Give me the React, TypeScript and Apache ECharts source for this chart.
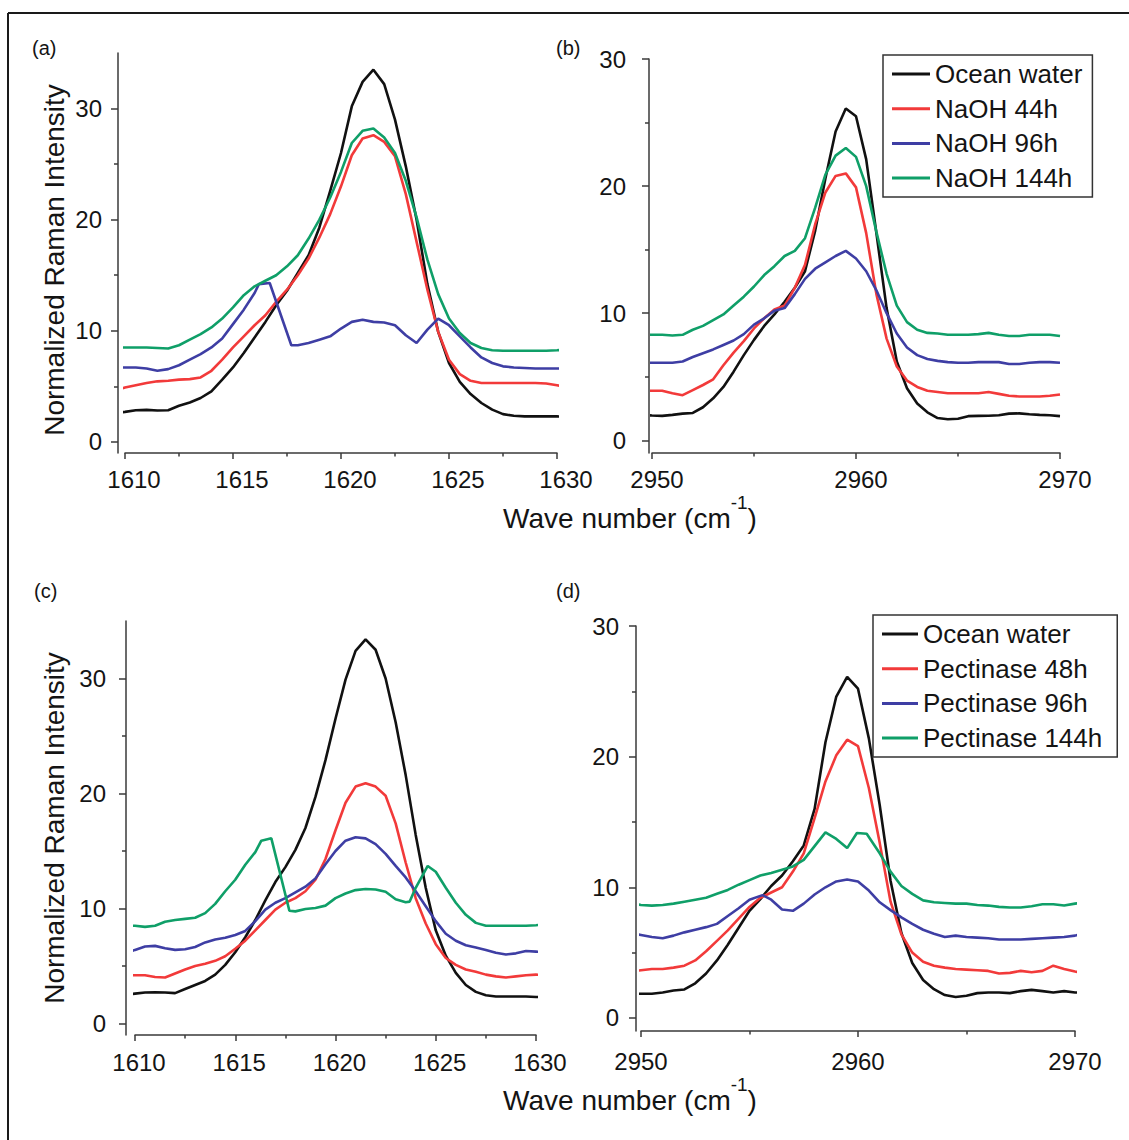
import React, { useEffect, useRef } from "react";
import * as echarts from "echarts";

// ---------- Panel (a): 1610 region, NaOH ----------
const X_A = [1609.7, 1610, 1610.5, 1611, 1611.5, 1612, 1612.5, 1613, 1613.5, 1614, 1614.5, 1615, 1615.5, 1616, 1616.5, 1617, 1617.5, 1618, 1618.5, 1619, 1619.5, 1620, 1620.5, 1621, 1621.5, 1622, 1622.5, 1623, 1623.5, 1624, 1624.5, 1625, 1625.5, 1626, 1626.5, 1627, 1627.5, 1628, 1628.5, 1629, 1629.5, 1630, 1630.4];
const A_OCEAN = [2.64, 2.7, 2.85, 2.88, 2.82, 2.85, 3.25, 3.55, 3.95, 4.55, 5.6, 6.7, 8.0, 9.4, 10.8, 12.3, 13.6, 15.2, 16.8, 19.3, 22.6, 26.0, 30.2, 32.4, 33.5, 32.2, 29.0, 24.8, 20.0, 14.2, 9.9, 7.1, 5.4, 4.3, 3.5, 2.9, 2.5, 2.35, 2.3, 2.3, 2.3, 2.3, 2.25];
const A_NAOH44 = [4.7, 4.9, 5.1, 5.3, 5.45, 5.5, 5.6, 5.65, 5.8, 6.4, 7.4, 8.5, 9.5, 10.5, 11.4, 12.6, 13.7, 15.0, 16.5, 18.4, 20.5, 23.0, 25.8, 27.3, 27.6, 27.0, 25.7, 22.3, 18.0, 13.7, 9.9, 7.4, 6.1, 5.5, 5.3, 5.3, 5.3, 5.3, 5.3, 5.3, 5.25, 5.1, 4.95];
const A_NAOH144 = [8.5, 8.5, 8.5, 8.5, 8.45, 8.4, 8.7, 9.2, 9.7, 10.3, 11.1, 12.1, 13.2, 14.0, 14.5, 15.0, 15.8, 16.8, 18.3, 20.0, 22.0, 24.3, 26.9, 28.0, 28.2, 27.4, 26.0, 23.5, 20.2, 16.4, 13.3, 11.1, 9.8, 8.9, 8.45, 8.25, 8.2, 8.2, 8.2, 8.2, 8.2, 8.25, 8.3];
const X_A_96 = [1609.7, 1610, 1610.5, 1611, 1611.5, 1612, 1612.5, 1613, 1613.5, 1614, 1614.5, 1615, 1615.5, 1616, 1616.2, 1616.7, 1617.7, 1618, 1618.5, 1619, 1619.5, 1620, 1620.5, 1621, 1621.5, 1622, 1622.5, 1623, 1623.5, 1624, 1624.5, 1625, 1625.5, 1626, 1626.5, 1627, 1627.5, 1628, 1628.5, 1629, 1629.5, 1630, 1630.4];
const A_NAOH96 = [6.7, 6.7, 6.7, 6.6, 6.4, 6.55, 6.9, 7.4, 7.9, 8.5, 9.3, 10.6, 11.9, 13.4, 14.2, 14.3, 8.7, 8.7, 8.9, 9.2, 9.5, 10.2, 10.8, 11.0, 10.8, 10.75, 10.5, 9.6, 8.9, 10.1, 11.1, 10.5, 9.5, 8.5, 7.6, 7.1, 6.8, 6.7, 6.65, 6.6, 6.6, 6.6, 6.6];

// ---------- Panel (b): 2960 region, NaOH ----------
const X_B = [2949.8, 2950, 2950.5, 2951, 2951.5, 2952, 2952.5, 2953, 2953.5, 2954, 2954.5, 2955, 2955.5, 2956, 2956.5, 2957, 2957.5, 2958, 2958.5, 2959, 2959.5, 2960, 2960.5, 2961, 2961.5, 2962, 2962.5, 2963, 2963.5, 2964, 2964.5, 2965, 2965.5, 2966, 2966.5, 2967, 2967.5, 2968, 2968.5, 2969, 2969.5, 2970];
const B_OCEAN = [1.97, 1.95, 1.92, 2.0, 2.1, 2.15, 2.6, 3.3, 4.2, 5.4, 6.7, 7.9, 9.0, 9.9, 10.9, 12.0, 13.3, 16.5, 20.6, 24.3, 26.1, 25.5, 22.1, 16.3, 10.4, 6.2, 4.1, 2.9, 2.2, 1.75, 1.65, 1.7, 1.9, 1.92, 1.93, 1.97, 2.1, 2.12, 2.05, 2.0, 1.97, 1.9];
const B_NAOH44 = [3.9, 3.9, 3.9, 3.7, 3.55, 3.95, 4.35, 4.8, 5.9, 6.9, 7.8, 8.8, 9.6, 10.3, 10.6, 12.0, 13.8, 17.0, 19.5, 20.8, 21.0, 19.9, 16.3, 11.5, 8.0, 5.8, 4.7, 4.2, 3.9, 3.8, 3.7, 3.7, 3.7, 3.7, 3.8, 3.65, 3.5, 3.45, 3.45, 3.45, 3.5, 3.6];
const B_NAOH96 = [6.1, 6.1, 6.1, 6.1, 6.2, 6.55, 6.85, 7.15, 7.5, 7.85, 8.35, 9.1, 9.6, 10.2, 10.4, 11.5, 12.7, 13.5, 14.0, 14.5, 14.9, 14.3, 13.3, 11.8, 10.0, 8.4, 7.3, 6.7, 6.4, 6.25, 6.15, 6.1, 6.1, 6.15, 6.15, 6.15, 6.0, 6.0, 6.1, 6.15, 6.15, 6.1];
const B_NAOH144 = [8.3, 8.3, 8.3, 8.25, 8.3, 8.7, 9.0, 9.45, 9.9, 10.6, 11.3, 12.1, 13.0, 13.7, 14.5, 14.9, 15.9, 18.3, 20.9, 22.4, 23.0, 22.3, 20.0, 16.4, 13.1, 10.6, 9.3, 8.7, 8.45, 8.4, 8.3, 8.3, 8.3, 8.35, 8.45, 8.3, 8.2, 8.2, 8.3, 8.3, 8.3, 8.2];

// ---------- Panel (c): 1610 region, Pectinase ----------
const X_C = [1609.55, 1610, 1610.5, 1611, 1611.5, 1612, 1612.5, 1613, 1613.5, 1614, 1614.5, 1615, 1615.5, 1616, 1616.5, 1617, 1617.5, 1618, 1618.5, 1619, 1619.5, 1620, 1620.5, 1621, 1621.5, 1622, 1622.5, 1623, 1623.5, 1624, 1624.5, 1625, 1625.5, 1626, 1626.5, 1627, 1627.5, 1628, 1628.5, 1629, 1629.5, 1630, 1630.45];
const C_OCEAN = [2.5, 2.6, 2.7, 2.72, 2.7, 2.64, 3.0, 3.35, 3.7, 4.25, 5.1, 6.2, 7.5, 9.0, 10.7, 12.3, 13.6, 15.1, 17.0, 19.7, 22.9, 26.5, 29.9, 32.4, 33.4, 32.5, 30.0, 26.2, 21.6, 16.4, 11.8, 8.1, 5.9, 4.4, 3.35, 2.75, 2.45, 2.35, 2.35, 2.35, 2.35, 2.3, 2.3];
const C_PECT48 = [4.2, 4.2, 4.2, 4.05, 4.0, 4.35, 4.7, 5.0, 5.2, 5.45, 5.85, 6.5, 7.2, 8.1, 9.0, 9.9, 10.5, 10.9, 11.5, 12.5, 14.3, 16.8, 19.2, 20.6, 20.9, 20.6, 19.8, 17.4, 14.0, 10.9, 8.7, 6.9, 5.7, 5.1, 4.7, 4.5, 4.25, 4.1, 4.0, 4.1, 4.2, 4.25, 4.2];
const C_PECT96 = [6.1, 6.4, 6.7, 6.75, 6.55, 6.4, 6.45, 6.65, 7.05, 7.3, 7.45, 7.7, 8.05, 8.9, 9.9, 10.5, 10.9, 11.4, 11.9, 12.6, 13.85, 15.0, 15.9, 16.2, 16.1, 15.6, 14.75, 13.7, 12.7, 11.5, 10.2, 8.9, 7.8, 7.2, 6.8, 6.6, 6.4, 6.15, 6.0, 6.1, 6.3, 6.25, 6.2];
const X_C_144 = [1609.55, 1610, 1610.5, 1611, 1611.5, 1612, 1612.5, 1613, 1613.5, 1614, 1614.5, 1615, 1615.5, 1616, 1616.3, 1616.8, 1617.7, 1618, 1618.5, 1619, 1619.5, 1620, 1620.5, 1621, 1621.5, 1622, 1622.5, 1623, 1623.5, 1623.7, 1624, 1624.6, 1625, 1625.5, 1626, 1626.5, 1627, 1627.5, 1628, 1628.5, 1629, 1629.5, 1630, 1630.45];
const C_PECT144 = [8.5, 8.5, 8.4, 8.5, 8.85, 9.0, 9.1, 9.2, 9.6, 10.4, 11.5, 12.5, 13.8, 14.9, 15.9, 16.1, 9.8, 9.75, 9.95, 10.05, 10.25, 10.9, 11.3, 11.6, 11.7, 11.65, 11.45, 10.8, 10.55, 10.6, 11.8, 13.7, 13.2, 11.8, 10.5, 9.45, 8.75, 8.5, 8.5, 8.5, 8.5, 8.5, 8.55, 8.6];

// ---------- Panel (d): 2960 region, Pectinase ----------
const X_D = [2949.8, 2950, 2950.5, 2951, 2951.5, 2952, 2952.5, 2953, 2953.5, 2954, 2954.5, 2955, 2955.5, 2956, 2956.5, 2957, 2957.5, 2958, 2958.5, 2959, 2959.5, 2960, 2960.5, 2961, 2961.5, 2962, 2962.5, 2963, 2963.5, 2964, 2964.5, 2965, 2965.5, 2966, 2966.5, 2967, 2967.5, 2968, 2968.5, 2969, 2969.5, 2970, 2970.2];
const D_OCEAN = [1.85, 1.85, 1.85, 1.95, 2.1, 2.18, 2.65, 3.4, 4.4, 5.6, 6.9, 8.2, 9.1, 10.1, 10.9, 12.0, 13.2, 16.0, 21.1, 24.6, 26.1, 25.2, 21.4, 16.3, 10.5, 6.5, 4.2, 2.9, 2.2, 1.75, 1.6, 1.7, 1.9, 1.95, 1.95, 1.9, 2.05, 2.15, 2.05, 1.95, 2.05, 1.95, 1.95];
const D_PECT48 = [3.6, 3.65, 3.75, 3.75, 3.85, 4.0, 4.4, 5.1, 5.9, 6.7, 7.6, 8.5, 9.2, 9.6, 10.0, 11.2, 12.6, 15.3, 18.1, 20.1, 21.3, 20.8, 17.6, 13.4, 8.9, 6.4, 5.0, 4.3, 4.0, 3.85, 3.75, 3.7, 3.65, 3.6, 3.4, 3.45, 3.6, 3.5, 3.6, 4.0, 3.75, 3.55, 3.5];
const X_D_96 = [2949.8, 2950, 2950.5, 2951, 2951.5, 2952, 2952.5, 2953, 2953.5, 2954, 2954.5, 2955, 2955.6, 2956, 2956.5, 2957, 2957.5, 2958, 2958.5, 2959, 2959.5, 2960, 2960.5, 2961, 2961.5, 2962, 2962.5, 2963, 2963.5, 2964, 2964.5, 2965, 2965.5, 2966, 2966.5, 2967, 2967.5, 2968, 2968.5, 2969, 2969.5, 2970, 2970.2];
const D_PECT96 = [6.4, 6.35, 6.2, 6.1, 6.3, 6.55, 6.75, 6.95, 7.2, 7.8, 8.4, 9.05, 9.4, 9.05, 8.3, 8.2, 8.75, 9.45, 10.0, 10.45, 10.6, 10.45, 9.75, 8.85, 8.25, 7.7, 7.2, 6.75, 6.45, 6.2, 6.3, 6.2, 6.15, 6.1, 6.0, 6.0, 6.0, 6.05, 6.1, 6.15, 6.2, 6.3, 6.4];
const X_D_144 = [2949.8, 2950, 2950.5, 2951, 2951.5, 2952, 2952.5, 2953, 2953.5, 2954, 2954.5, 2955, 2955.5, 2956, 2956.5, 2957, 2957.5, 2958, 2958.5, 2959, 2959.5, 2959.95, 2960.4, 2961, 2961.5, 2962, 2962.5, 2963, 2963.5, 2964, 2964.5, 2965, 2965.5, 2966, 2966.5, 2967, 2967.5, 2968, 2968.5, 2969, 2969.5, 2970, 2970.2];
const D_PECT144 = [8.7, 8.65, 8.6, 8.65, 8.75, 8.9, 9.05, 9.2, 9.5, 9.8, 10.2, 10.55, 10.9, 11.1, 11.35, 11.6, 12.1, 13.15, 14.2, 13.7, 13.0, 14.15, 14.1, 12.6, 11.2, 10.1, 9.5, 9.0, 8.85, 8.8, 8.75, 8.75, 8.65, 8.6, 8.5, 8.45, 8.45, 8.55, 8.7, 8.7, 8.6, 8.75, 8.8];

// ---------- Labels / ticks ----------
const NAMES_NAOH = ["Ocean water", "NaOH 44h", "NaOH 96h", "NaOH 144h"];
const NAMES_PECT = ["Ocean water", "Pectinase 48h", "Pectinase 96h", "Pectinase 144h"];
const Y_MAJOR = [0, 10, 20, 30];
const Y_MINOR = [5, 15, 25];
const PANEL_TAGS = ["(a)", "(b)", "(c)", "(d)"];
const Y_TITLE = "Normalized Raman Intensity";
const X_TITLE_MAIN = "Wave number (cm";
const X_TITLE_SUP = "-1";

const COLORS = ["#111111", "#f23a3a", "#3e3ea4", "#0f9f68"];
const FONT = "'Liberation Sans', Arial, Helvetica, sans-serif";
const AXIS_COLOR = "#3a3a3a";
const TEXT_COLOR = "#141414";

const zip = (xs: number[], ys: number[]) => xs.map((x, i) => [x, ys[i]]);

function buildOption() {
  const panels = [
    {
      grid: { left: 125, top: 53, width: 432, height: 400 },
      xMin: 1610, xMax: 1630, xInt: 5, yMax: 35, yOff: 7, yMargin: 16, yPad: [0, 0, 0, 0],
      xMargin: 14, xPad: [0, 0, 0, 18],
      names: NAMES_NAOH,
      data: [zip(X_A, A_OCEAN), zip(X_A, A_NAOH44), zip(X_A_96, A_NAOH96), zip(X_A, A_NAOH144)],
    },
    {
      grid: { left: 652, top: 59, width: 408, height: 394 },
      xMin: 2950, xMax: 2970, xInt: 10, yMax: 30, yOff: 3, yMargin: 23, yPad: [0, 0, 10, 0],
      xMargin: 14, xPad: [0, 0, 0, 10],
      names: NAMES_NAOH,
      data: [zip(X_B, B_OCEAN), zip(X_B, B_NAOH44), zip(X_B, B_NAOH96), zip(X_B, B_NAOH144)],
    },
    {
      grid: { left: 135, top: 621, width: 401, height: 414 },
      xMin: 1610, xMax: 1630, xInt: 5, yMax: 35, yOff: 9, yMargin: 20, yPad: [0, 0, 0, 0],
      xMargin: 15, xPad: [0, 0, 0, 8],
      names: NAMES_PECT,
      data: [zip(X_C, C_OCEAN), zip(X_C, C_PECT48), zip(X_C, C_PECT96), zip(X_C_144, C_PECT144)],
    },
    {
      grid: { left: 641, top: 626, width: 434, height: 405 },
      xMin: 2950, xMax: 2970, xInt: 10, yMax: 30, yOff: 5, yMargin: 17, yPad: [0, 0, 0, 0],
      xMargin: 18, xPad: [0, 0, 0, 0],
      names: NAMES_PECT,
      data: [zip(X_D, D_OCEAN), zip(X_D, D_PECT48), zip(X_D_96, D_PECT96), zip(X_D_144, D_PECT144)],
    },
  ];

  const lineStyle = { color: AXIS_COLOR, width: 1.5 };
  const grids: any[] = [];
  const xAxes: any[] = [];
  const yAxes: any[] = [];
  const series: any[] = [];

  panels.forEach((p, i) => {
    grids.push({ ...p.grid, containLabel: false, outerBoundsMode: "none" });
    xAxes.push({
      type: "value",
      gridIndex: i,
      min: p.xMin,
      max: p.xMax,
      interval: p.xInt,
      position: "bottom",
      axisLine: { show: true, onZero: false, lineStyle },
      axisTick: { show: true, length: 6, lineStyle },
      minorTick: { show: true, splitNumber: 2, length: 3.5, lineStyle },
      axisLabel: {
        fontSize: 24,
        color: TEXT_COLOR,
        fontFamily: FONT,
        margin: p.xMargin,
        padding: p.xPad,
        formatter: (v: number) => String(v),
      },
      splitLine: { show: false },
    });
    yAxes.push({
      type: "value",
      gridIndex: i,
      min: -1,
      max: p.yMax,
      position: "left",
      offset: p.yOff,
      axisLine: { show: true, onZero: false, lineStyle },
      axisTick: { show: true, length: 7, customValues: Y_MAJOR, lineStyle },
      axisLabel: {
        customValues: Y_MAJOR,
        fontSize: 24,
        color: TEXT_COLOR,
        fontFamily: FONT,
        margin: p.yMargin,
        padding: p.yPad,
        formatter: (v: number) => String(v),
      },
      splitLine: { show: false },
    });
    yAxes.push({
      type: "value",
      gridIndex: i,
      min: -1,
      max: p.yMax,
      position: "left",
      offset: p.yOff,
      axisLine: { show: false, onZero: false },
      axisTick: { show: true, length: 4, customValues: Y_MINOR, lineStyle },
      axisLabel: { show: false },
      splitLine: { show: false },
    });
    p.data.forEach((d, k) => {
      series.push({
        type: "line",
        name: p.names[k],
        xAxisIndex: i,
        yAxisIndex: i * 2,
        data: d,
        showSymbol: false,
        symbol: "none",
        clip: false,
        lineStyle: { width: 2.6, color: COLORS[k] },
        itemStyle: { color: COLORS[k] },
        z: 3,
      });
    });
  });

  const legendBase = {
    orient: "vertical",
    icon: "rect",
    itemHeight: 3,
    itemGap: 4.7,
    borderColor: "#333",
    borderWidth: 1.5,
    selectedMode: false,
    backgroundColor: "#fff",
    textStyle: { fontSize: 26, lineHeight: 30, color: TEXT_COLOR, fontFamily: FONT },
  };

  const textStyle = (fs: number) => ({ fill: TEXT_COLOR, fontSize: fs, fontFamily: FONT });

  const graphic: any[] = [
    { type: "line", shape: { x1: 8, y1: 13, x2: 1129, y2: 13 }, style: { stroke: "#1a1a1a", lineWidth: 2 } },
    { type: "line", shape: { x1: 8, y1: 13, x2: 8, y2: 1140 }, style: { stroke: "#1a1a1a", lineWidth: 2 } },
    { type: "text", x: 32, y: 48, style: { ...textStyle(20), text: PANEL_TAGS[0], verticalAlign: "middle" } },
    { type: "text", x: 556, y: 48, style: { ...textStyle(20), text: PANEL_TAGS[1], verticalAlign: "middle" } },
    { type: "text", x: 34, y: 591, style: { ...textStyle(20), text: PANEL_TAGS[2], verticalAlign: "middle" } },
    { type: "text", x: 556, y: 591, style: { ...textStyle(20), text: PANEL_TAGS[3], verticalAlign: "middle" } },
    {
      type: "text", x: 54, y: 260, rotation: Math.PI / 2,
      style: { ...textStyle(28), text: Y_TITLE, align: "center", verticalAlign: "middle" },
    },
    {
      type: "text", x: 54, y: 828, rotation: Math.PI / 2,
      style: { ...textStyle(28), text: Y_TITLE, align: "center", verticalAlign: "middle" },
    },
  ];
  [518, 1100].forEach((y) => {
    graphic.push({
      type: "text",
      x: 630,
      y,
      style: {
        text: `{m|${X_TITLE_MAIN}}{s|${X_TITLE_SUP}}{m|)}`,
        align: "center",
        verticalAlign: "middle",
        fill: TEXT_COLOR,
        fontFamily: FONT,
        rich: {
          m: { fontSize: 28, lineHeight: 50, fontFamily: FONT, fill: TEXT_COLOR },
          s: { fontSize: 19, lineHeight: 19, verticalAlign: "top", fontFamily: FONT, fill: TEXT_COLOR },
        },
      },
    });
  });

  return {
    animation: false,
    backgroundColor: "#ffffff",
    grid: grids,
    xAxis: xAxes,
    yAxis: yAxes,
    series,
    legend: [
      { ...legendBase, data: NAMES_NAOH, left: 883, top: 55, padding: [4, 10, 4, 9], itemWidth: 38 },
      { ...legendBase, data: NAMES_PECT, left: 873, top: 615, padding: [4, 15, 4, 9], itemWidth: 36 },
    ],
    graphic,
  };
}

export default function App() {
  const ref = useRef<HTMLDivElement>(null);
  useEffect(() => {
    document.body.style.margin = "0";
    const chart = echarts.init(ref.current as HTMLDivElement, null, { renderer: "svg" });
    chart.setOption(buildOption() as any);
    return () => chart.dispose();
  }, []);
  return <div ref={ref} style={{ width: 1129, height: 1140 }} />;
}
